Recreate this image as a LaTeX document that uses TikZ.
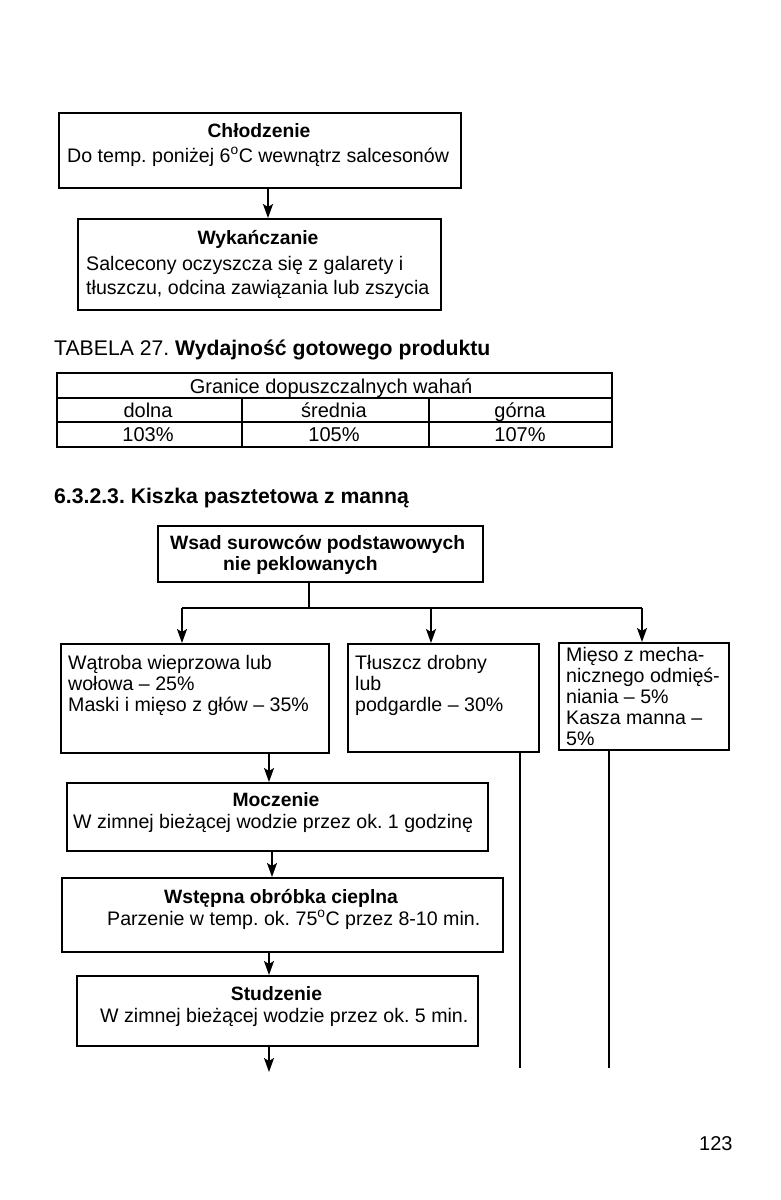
\documentclass[tikz,border=0pt]{standalone}
\usepackage{fontspec}
\setmainfont{Liberation Sans}
\usetikzlibrary{arrows.meta}
\newcommand\myfs{\fontsize{19.6}{21.5}\selectfont\frenchspacing}
\newcommand\mybs{\fontsize{19.3}{21.5}\selectfont\frenchspacing\bfseries}
\newcommand\myhs{\fontsize{21.2}{24}\selectfont\frenchspacing}
\begin{document}
\begin{tikzpicture}[x=1pt,y=-1pt,
  box/.style={draw, line width=1.5pt, inner sep=0pt, anchor=north west},
  tl/.style={anchor=base, inner sep=0pt, font=\mybs},
  tx/.style={anchor=base west, inner sep=0pt, font=\myfs},
  tc/.style={anchor=base, inner sep=0pt, font=\myfs},
  arr/.style={line width=1.5pt, -{Stealth[length=14pt,width=10pt,inset=3pt]}},
  ln/.style={line width=1.5pt},
  tln/.style={line width=1.2pt}]
\fill[white] (0,0) rectangle (780,1200);
\useasboundingbox (0,0) rectangle (780,1200);

% --- Chlodzenie / Wykanczanie
\node[box, minimum width=402pt, minimum height=75pt] (chl) at (58,112) {};
\node[tl] (chlt) at (259,137) {Chłodzenie};
\node[tx] (chl1) at (67,162) {Do temp. poniżej 6\textsuperscript{o}C wewnątrz salcesonów};

\node[box, minimum width=363pt, minimum height=91pt] (wyk) at (77,218) {};
\node[tl] (wykt) at (258,244) {Wykańczanie};
\node[tx] (wyk1) at (86,270) {Salcecony oczyszcza się z galarety i};
\node[tx] (wyk2) at (86,294) {tłuszczu, odcina zawiązania lub zszycia};

\coordinate (a1) at (268,0);
\draw[arr] (chl.south -| a1) -- (wyk.north -| a1);

% --- Table
\node[tx, font=\myhs] (tab) at (54,355) {TABELA 27. \textbf{Wydajność gotowego produktu}};
\draw[tln] (57,373) rectangle (612,447);
\draw[tln] (57,398) -- (612,398);
\draw[tln] (57,422) -- (612,422);
\draw[tln] (242,398) -- (242,447);
\draw[tln] (429,398) -- (429,447);
\node[tc, font=\fontsize{20}{24}\selectfont] (th) at (331,393) {Granice dopuszczalnych wahań};
\node[tc, font=\fontsize{20}{24}\selectfont] (c1) at (148,417) {dolna};
\node[tc, font=\fontsize{20}{24}\selectfont] (c2) at (334,417) {średnia};
\node[tc, font=\fontsize{20}{24}\selectfont] (c3) at (520,417) {górna};
\node[tc, font=\fontsize{20}{24}\selectfont] (v1) at (148,441) {103\%};
\node[tc, font=\fontsize{20}{24}\selectfont] (v2) at (334,441) {105\%};
\node[tc, font=\fontsize{20}{24}\selectfont] (v3) at (520,441) {107\%};

% --- Section heading
\node[tx, font=\myhs\bfseries] (sec) at (54,503) {6.3.2.3. Kiszka pasztetowa z manną};

% --- Flowchart
\node[box, minimum width=325pt, minimum height=56pt] (wsad) at (157,525) {};
\node[tx, font=\mybs] (w1) at (170,549) {Wsad surowców podstawowych};
\node[tx, font=\mybs] (w2) at (223,570) {nie peklowanych};

\node[box, minimum width=268pt, minimum height=109pt] (left) at (60,643) {};
\node[tx] (l1) at (68,669) {Wątroba wieprzowa lub};
\node[tx] (l2) at (68,690) {wołowa – 25\%};
\node[tx] (l3) at (68,711) {Maski i mięso z głów – 35\%};

\node[box, minimum width=191pt, minimum height=108pt] (mid) at (347,643) {};
\node[tx] (m1) at (355,669) {Tłuszcz drobny};
\node[tx] (m2) at (355,690) {lub};
\node[tx] (m3) at (355,711) {podgardle – 30\%};

\node[box, minimum width=170pt, minimum height=107pt] (right) at (558,642) {};
\node[tx] (r1) at (566,661) {Mięso z mecha-};
\node[tx] (r2) at (566,682) {nicznego odmięś-};
\node[tx] (r3) at (566,703) {niania – 5\%};
\node[tx] (r4) at (566,724) {Kasza manna –};
\node[tx] (r5) at (566,745) {5\%};

\coordinate (j) at (309,608);
\coordinate (jl) at (182,608);
\coordinate (jm) at (431,608);
\coordinate (jr) at (642,608);
\draw[ln] (wsad.south -| j) -- (j);
\draw[ln] (jl) -- (jr);
\draw[arr] (jl) -- (left.north -| jl);
\draw[arr] (jm) -- (mid.north -| jm);
\draw[arr] (jr) -- (right.north -| jr);

\coordinate (sm) at (520,1068);
\coordinate (sr) at (609,1068);
\draw[ln] (mid.south -| sm) -- (sm);
\draw[ln] (right.south -| sr) -- (sr);

\node[box, minimum width=421pt, minimum height=68pt] (mocz) at (66,782) {};
\node[tl] (mt) at (276,806) {Moczenie};
\node[tx] (mo1) at (73,828) {W zimnej bieżącej wodzie przez ok. 1 godzinę};

\node[box, minimum width=441pt, minimum height=74pt] (wst) at (61,877) {};
\node[tl] (wt) at (281,903) {Wstępna obróbka cieplna};
\node[tx] (ws1) at (107,925) {Parzenie w temp. ok. 75\textsuperscript{o}C przez 8-10 min.};

\node[box, minimum width=401pt, minimum height=70pt] (stu) at (76,975) {};
\node[tl] (st) at (276.5,1000) {Studzenie};
\node[tx] (st1) at (100,1022) {W zimnej bieżącej wodzie przez ok. 5 min.};

\coordinate (b1) at (269,0);
\coordinate (b2) at (272,0);
\coordinate (e) at (269,1072);
\draw[arr] (left.south -| b1) -- (mocz.north -| b1);
\draw[arr] (mocz.south -| b2) -- (wst.north -| b2);
\draw[arr] (wst.south -| b1) -- (stu.north -| b1);
\draw[arr] (stu.south -| e) -- (e);

% --- page number
\node[tx, font=\fontsize{20}{24}\selectfont] (pg) at (699,1150) {123};
\end{tikzpicture}
\end{document}
